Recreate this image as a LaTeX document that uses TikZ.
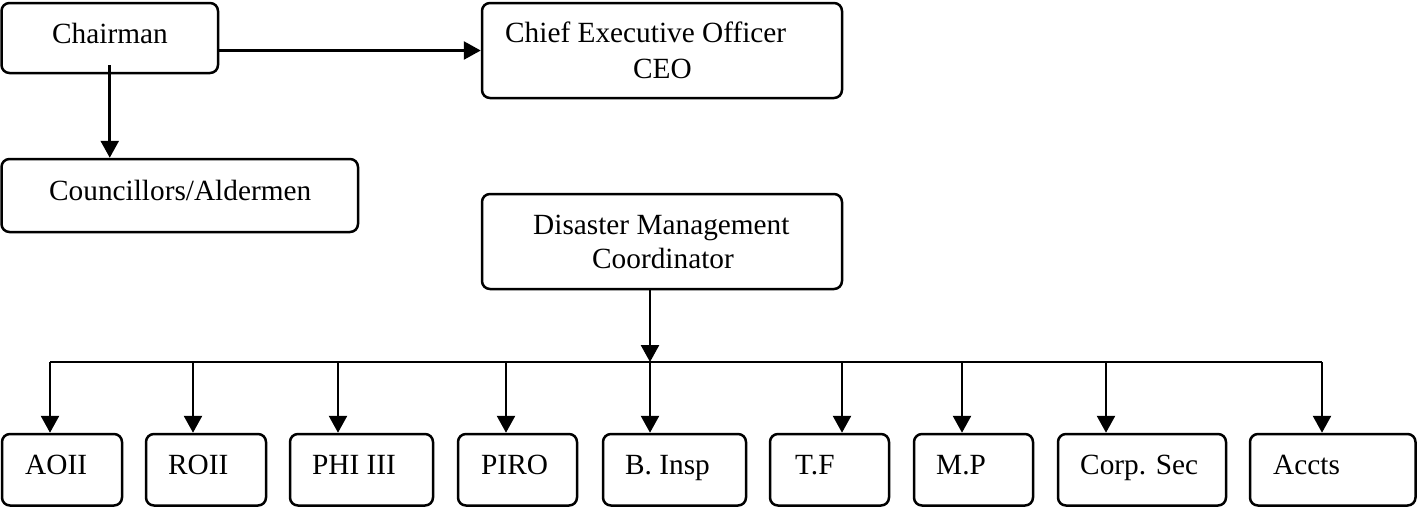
\documentclass[tikz,border=0pt]{standalone}
\usepackage{fontspec}
\setmainfont{Liberation Serif}
\usetikzlibrary{arrows.meta,calc}
\tikzset{
  box/.style={draw=black, line width=2.5pt, rounded corners=8pt, fill=white, inner sep=0pt},
  arr/.style={line width=2.6pt, -{Triangle[length=17pt,width=18pt]}},
  lbl/.style={anchor=base west, inner sep=0pt, font=\fontsize{29.3}{34}\selectfont},
  bus/.style={line width=2.6pt}
}
\newcommand{\mybox}[5]{% name, x1, y1, x2, y2
  \node[box, minimum width={(#4-#2)*1pt}, minimum height={(#5-#3)*1pt}] (#1) at ({(#2+#4)/2},{(#3+#5)/2}) {};}
\begin{document}
\begin{tikzpicture}[x=1pt,y=-1pt]
\useasboundingbox (0,0) rectangle (1417,507);
% top boxes
\mybox{chair}{1.5}{3}{218}{73}
\mybox{coun}{1.5}{159}{358}{232}
\mybox{ceo}{482}{3}{842}{98}
\mybox{dmc}{482}{194}{842}{289}
% bottom boxes
\mybox{aoii}{2}{434}{122}{505.5}
\mybox{roii}{146}{434}{266}{505.5}
\mybox{phi}{290}{434}{433}{505.5}
\mybox{piro}{458}{434}{577}{505.5}
\mybox{binsp}{603}{434}{746}{505.5}
\mybox{tf}{770}{434}{889}{505.5}
\mybox{mp}{914}{434}{1033}{505.5}
\mybox{corp}{1058}{434}{1226}{505.5}
\mybox{accts}{1250}{434}{1415.5}{505.5}
% labels
\node[lbl] (t-chair) at (52,43) {Chairman};
\node[lbl] (t-coun) at (49,200) {Councillors/Aldermen};
\node[lbl] (t-ceo1) at (505,42) {Chief Executive Officer};
\node[lbl] (t-ceo2) at (633,78) {CEO};
\node[lbl] (t-dmc1) at (533,234) {Disaster Management};
\node[lbl] (t-dmc2) at (592,268) {Coordinator};
\node[lbl] (t-aoii) at (25,474) {AOII};
\node[lbl] (t-roii) at (168,474) {ROII};
\node[lbl] (t-phi) at (312,474) {PHI III};
\node[lbl] (t-piro) at (481,474) {PIRO};
\node[lbl] (t-binsp) at (625,474) {B. Insp};
\node[lbl] (t-tf) at (795,474) {T.F};
\node[lbl] (t-mp) at (936,474) {M.P};
\node[lbl] (t-corp) at (1080,474) {Corp. Sec};
\node[lbl] (t-accts) at (1273,474) {Accts};
% connectors
\draw[arr] (chair.east |- ceo.west) -- (ceo.west);
\draw[arr] ($(chair.south)+(0,-9)$) -- (chair.south |- coun.north);
\coordinate (bus) at (650,362);
\draw[arr] (dmc.south -| bus) -- (bus);
\coordinate (d1) at (50,362);
\coordinate (d2) at (193,362);
\coordinate (d3) at (338,362);
\coordinate (d4) at (506,362);
\coordinate (d5) at (650,362);
\coordinate (d6) at (842,362);
\coordinate (d7) at (962,362);
\coordinate (d8) at (1106,362);
\coordinate (d9) at (1322,362);
\draw[bus] (d1) -- (d9);
\draw[arr] (d1) -- (d1 |- aoii.north);
\draw[arr] (d2) -- (d2 |- roii.north);
\draw[arr] (d3) -- (d3 |- phi.north);
\draw[arr] (d4) -- (d4 |- piro.north);
\draw[arr] (d5) -- (d5 |- binsp.north);
\draw[arr] (d6) -- (d6 |- tf.north);
\draw[arr] (d7) -- (d7 |- mp.north);
\draw[arr] (d8) -- (d8 |- corp.north);
\draw[arr] (d9) -- (d9 |- accts.north);
\end{tikzpicture}
\end{document}
